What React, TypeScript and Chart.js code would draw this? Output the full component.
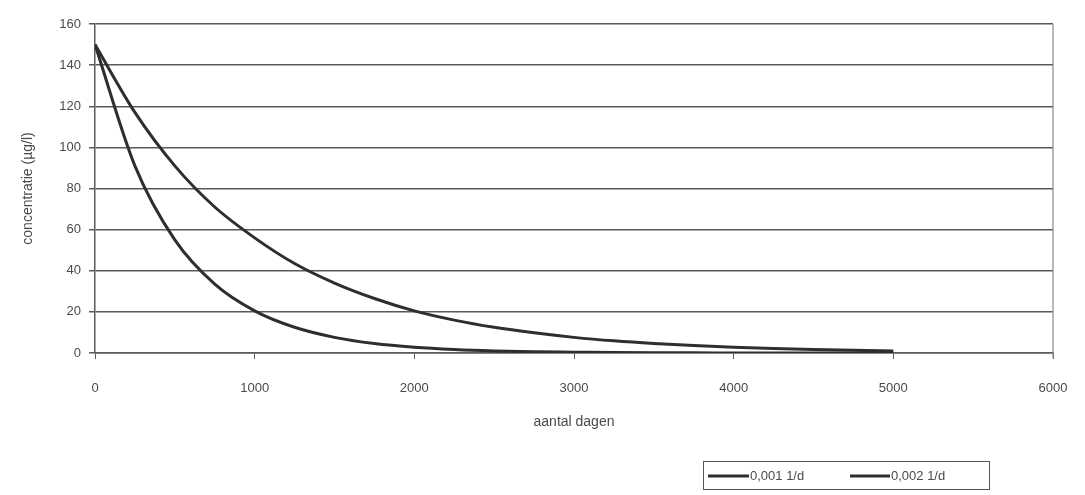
import React, { useEffect, useRef } from "react";
import { Chart, registerables } from "chart.js";

Chart.register(...registerables);

const days = [0, 250, 500, 750, 1000, 1250, 1500, 1750, 2000, 2250, 2500, 2750, 3000, 3250, 3500, 3750, 4000, 4250, 4500, 4750, 5000];
const series001 = [150, 117, 91, 71, 56, 43.5, 34, 26.5, 20.5, 16, 12.5, 9.8, 7.6, 5.9, 4.6, 3.6, 2.8, 2.2, 1.7, 1.3, 1.0];
const series002 = [150, 91, 55, 33.5, 20.5, 12.5, 7.6, 4.6, 2.8, 1.7, 1.0, 0.6, 0.4, 0.2, 0.1, 0.1, 0, 0, 0, 0, 0];
const seriesLabels = ["0,001 1/d", "0,002 1/d"];
const xTitle = "aantal dagen";
const yTitle = "concentratie (µg/l)";

const FONT = "'Liberation Sans', Arial, sans-serif";
const LINE = "#2e2e2e";
const GRID = "#5a5a5a";
const TEXT = "#4a4a4a";

const frame = {
  id: "frame",
  afterDraw(chart: any) {
    const { ctx, chartArea } = chart;
    ctx.save();
    ctx.strokeStyle = "#8a8a8a";
    ctx.lineWidth = 1.2;
    ctx.beginPath();
    ctx.moveTo(chartArea.right, chartArea.top);
    ctx.lineTo(chartArea.right, chartArea.bottom + 5);
    ctx.stroke();
    const bx = 703, by = 461, bw = 286, bh = 28;
    ctx.strokeStyle = "#555";
    ctx.lineWidth = 1;
    ctx.strokeRect(bx + 0.5, by + 0.5, bw, bh);
    ctx.font = `13px ${FONT}`;
    ctx.fillStyle = TEXT;
    ctx.textBaseline = "middle";
    const cy = by + bh / 2 + 1;
    const entries = [
      { x1: 708, x2: 749, tx: 750, label: chart.data.datasets[0].label },
      { x1: 850, x2: 890, tx: 891, label: chart.data.datasets[1].label },
    ];
    for (const e of entries) {
      ctx.strokeStyle = LINE;
      ctx.lineWidth = 3;
      ctx.beginPath();
      ctx.moveTo(e.x1, cy);
      ctx.lineTo(e.x2, cy);
      ctx.stroke();
      ctx.fillText(e.label, e.tx, cy);
    }
    ctx.restore();
  },
};

export default function App() {
  const ref = useRef<HTMLCanvasElement | null>(null);
  useEffect(() => {
    if (!ref.current) return;
    const chart = new Chart(ref.current, {
      type: "line",
      data: {
        datasets: [
          {
            label: seriesLabels[0],
            data: days.map((d, i) => ({ x: d, y: series001[i] })),
            borderColor: LINE,
            borderWidth: 3,
            pointRadius: 0,
            cubicInterpolationMode: "monotone",
          },
          {
            label: seriesLabels[1],
            data: days.map((d, i) => ({ x: d, y: series002[i] })),
            borderColor: LINE,
            borderWidth: 3,
            pointRadius: 0,
            cubicInterpolationMode: "monotone",
          },
        ],
      },
      options: {
        responsive: false,
        animation: false,
        layout: { padding: { left: 0, right: 32, top: 24, bottom: 60 } },
        plugins: { legend: { display: false }, tooltip: { enabled: false } },
        scales: {
          x: {
            type: "linear",
            min: 0,
            max: 6000,
            ticks: {
              stepSize: 1000,
              color: TEXT,
              font: { family: FONT, size: 13 },
              padding: 22,
              callback: (v: any) => String(v),
            },
            grid: { drawOnChartArea: false, color: GRID, tickLength: 6 },
            border: { color: GRID, width: 1.5 },
            title: { display: true, text: xTitle, color: TEXT, font: { family: FONT, size: 14 }, padding: { top: 4, bottom: 4 } },
            afterFit: (s: any) => { s.height = 82; s.paddingRight = 0; s.paddingLeft = 0; },
          },
          y: {
            min: 0,
            max: 160,
            ticks: { stepSize: 20, color: TEXT, font: { family: FONT, size: 13 }, padding: 8 },
            grid: { color: GRID, lineWidth: 1.5, tickLength: 6 },
            border: { color: GRID, width: 1.5 },
            title: { display: true, text: yTitle, color: TEXT, font: { family: FONT, size: 14 }, padding: { top: 20, bottom: 0 } },
            afterFit: (s: any) => { s.width = 95; },
          },
        },
      },
      plugins: [frame],
    });
    return () => chart.destroy();
  }, []);
  return (
    <div style={{ position: "absolute", left: 0, top: 0, width: 1085, height: 495, background: "#fff" }}>
      <canvas ref={ref} width={1085} height={495} />
    </div>
  );
}
